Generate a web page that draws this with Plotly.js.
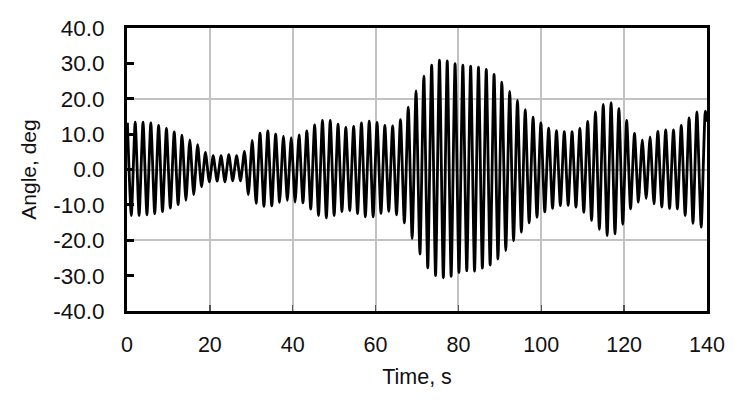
<!DOCTYPE html>
<html>
<head>
<meta charset="utf-8">
<script src="https://cdn.plot.ly/plotly-3.0.1.min.js"></script>
<style>
html,body{margin:0;padding:0;background:#ffffff;}
#chart{width:744px;height:403px;}
</style>
</head>
<body>
<div id="chart"></div>
<script>
// Times (s) of successive extrema (peak, trough, peak, ...)
const timeS = [
  0.10, 1.04, 1.98, 2.92, 3.87, 4.81, 5.75, 6.69, 7.63, 8.57,
  9.52, 10.46, 11.40, 12.34, 13.28, 14.22, 15.16, 16.11, 17.05, 17.99,
  18.93, 19.87, 20.81, 21.75, 22.70, 23.64, 24.58, 25.52, 26.46, 27.40,
  28.35, 29.29, 30.23, 31.17, 32.11, 33.05, 33.99, 34.94, 35.88, 36.82,
  37.76, 38.70, 39.64, 40.58, 41.53, 42.47, 43.41, 44.35, 45.29, 46.23,
  47.18, 48.12, 49.06, 50.00, 50.94, 51.88, 52.82, 53.77, 54.71, 55.65,
  56.59, 57.53, 58.47, 59.41, 60.36, 61.30, 62.24, 63.18, 64.12, 65.06,
  66.01, 66.95, 67.89, 68.83, 69.77, 70.71, 71.65, 72.60, 73.54, 74.48,
  75.42, 76.36, 77.30, 78.24, 79.19, 80.13, 81.07, 82.01, 82.95, 83.89,
  84.84, 85.78, 86.72, 87.66, 88.60, 89.54, 90.48, 91.43, 92.37, 93.31,
  94.25, 95.19, 96.13, 97.07, 98.02, 98.96, 99.90, 100.84, 101.78, 102.72,
  103.67, 104.61, 105.55, 106.49, 107.43, 108.37, 109.31, 110.26, 111.20, 112.14,
  113.08, 114.02, 114.96, 115.90, 116.85, 117.79, 118.73, 119.67, 120.61, 121.55,
  122.50, 123.44, 124.38, 125.32, 126.26, 127.20, 128.14, 129.09, 130.03, 130.97,
  131.91, 132.85, 133.79, 134.73, 135.68, 136.62, 137.56, 138.60, 139.60, 140.00
];
// Angle (deg) at those extrema
const angleDeg = [
  13.2, -13.0, 13.4, -13.0, 13.4, -12.8, 13.2, -12.5, 12.5, -11.9,
  11.6, -10.9, 10.6, -9.9, 9.7, -8.7, 8.4, -7.1, 7.0, -4.9,
  4.8, -3.5, 3.9, -3.3, 3.9, -3.5, 4.2, -3.2, 3.9, -3.2,
  5.1, -7.1, 8.2, -9.6, 10.3, -10.4, 10.9, -10.3, 10.0, -9.3,
  9.4, -8.8, 9.0, -9.2, 9.8, -9.4, 10.9, -11.2, 12.6, -13.0,
  13.9, -13.7, 13.9, -13.0, 12.8, -11.9, 11.9, -11.6, 12.2, -12.5,
  13.2, -13.4, 13.7, -13.4, 13.3, -12.4, 12.5, -11.8, 12.3, -12.8,
  14.1, -15.1, 17.6, -19.5, 22.2, -23.9, 26.4, -27.8, 29.5, -30.0,
  30.9, -30.6, 30.7, -30.2, 29.9, -29.1, 29.5, -28.6, 29.2, -28.7,
  28.9, -27.9, 28.3, -27.0, 26.9, -25.3, 24.7, -22.9, 22.1, -20.2,
  19.5, -17.7, 16.9, -15.1, 14.8, -13.5, 13.2, -12.0, 11.7, -11.0,
  11.0, -10.2, 10.7, -10.1, 10.7, -10.6, 11.6, -12.1, 13.6, -14.4,
  16.3, -16.9, 18.4, -18.7, 18.9, -18.2, 17.3, -15.5, 13.9, -11.1,
  10.2, -9.2, 8.4, -8.2, 9.2, -9.7, 10.8, -10.6, 11.2, -11.0,
  11.2, -11.1, 12.5, -13.0, 14.6, -15.2, 16.3, -16.3, 16.5, 13.5
];
const yTickVals = [-40, -30, -20, -10, 0, 10, 20, 30, 40];
const yTickText = ["-40.0", "-30.0", "-20.0", "-10.0", "0.0", "10.0", "20.0", "30.0", "40.0"];
const xTickVals = [0, 20, 40, 60, 80, 100, 120, 140];
const xTickText = ["0", "20", "40", "60", "80", "100", "120", "140"];
const gridVals = [-40, -20, 0, 20, 40];

const fontFam = "'Liberation Sans', Arial, sans-serif";

const gridHolder = {
  x: [], y: [], type: 'scatter', mode: 'lines', yaxis: 'y2',
  hoverinfo: 'skip', showlegend: false
};

const trace = {
  x: timeS,
  y: angleDeg,
  type: 'scatter',
  mode: 'lines',
  line: {color: '#000000', width: 2.8, shape: 'spline', smoothing: 0.6},
  hoverinfo: 'skip'
};

const layout = {
  width: 744,
  height: 403,
  margin: {l: 127, r: 37, t: 28, b: 92, pad: 0},
  paper_bgcolor: '#ffffff',
  plot_bgcolor: '#ffffff',
  showlegend: false,
  font: {family: fontFam, size: 21, color: '#111111'},
  xaxis: {
    range: [0, 140],
    tickmode: 'array',
    tickvals: xTickVals,
    ticktext: xTickText,
    tickfont: {size: 21.5},
    showgrid: true,
    gridcolor: '#c2c2c2',
    gridwidth: 2,
    zeroline: false,
    showline: true,
    mirror: true,
    linecolor: '#000000',
    linewidth: 3,
    ticks: 'inside',
    ticklen: 6,
    tickwidth: 1.5,
    tickcolor: '#555555',
    ticklabelstandoff: 12,
    automargin: false,
    title: {text: 'Time, s', font: {family: fontFam, size: 21.5, color: '#111111'}, standoff: 14}
  },
  yaxis: {
    range: [-40, 40],
    tickmode: 'array',
    tickvals: yTickVals,
    ticktext: yTickText,
    tickfont: {size: 22.5},
    showgrid: false,
    zeroline: false,
    showline: true,
    mirror: true,
    linecolor: '#000000',
    linewidth: 3,
    ticks: 'inside',
    ticklen: 7,
    tickwidth: 3,
    tickcolor: '#000000',
    ticklabelstandoff: 15,
    automargin: false,
    title: {text: 'Angle, deg', font: {family: fontFam, size: 21, color: '#111111'}, standoff: 11}
  },
  yaxis2: {
    overlaying: 'y',
    side: 'left',
    anchor: 'x',
    range: [-40, 40],
    tickmode: 'array',
    tickvals: gridVals,
    showticklabels: false,
    ticks: '',
    showgrid: true,
    gridcolor: '#c2c2c2',
    gridwidth: 2,
    zeroline: false,
    showline: false,
    automargin: false
  }
};

Plotly.newPlot('chart', [gridHolder, trace], layout, {displayModeBar: false, staticPlot: true});
</script>
</body>
</html>
